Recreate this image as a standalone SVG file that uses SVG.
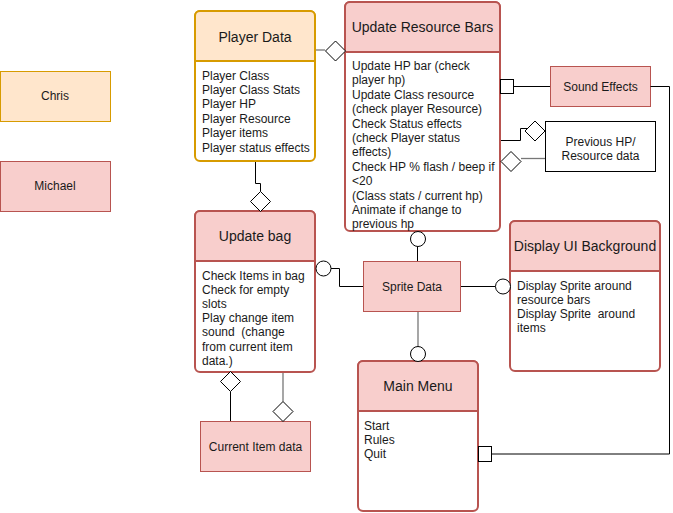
<svg xmlns="http://www.w3.org/2000/svg" xmlns:xlink="http://www.w3.org/1999/xlink" width="673" height="513" viewBox="0 0 673 513">
<style>
text{font-family:"Liberation Sans",Arial,sans-serif;fill:#1a1a1a}
.t{font-size:14px;text-anchor:middle}
.b{font-size:12px}
.c{font-size:12px;text-anchor:middle}
.or{fill:#ffe6cc;stroke:#d79b00}
.rd{fill:#f8cecc;stroke:#b85450}
.sw{stroke-width:2}
.body{fill:#fff;stroke-width:2}
.wb{fill:#fff;stroke:#000}
.ln{fill:none;stroke:#000;stroke-width:1}
.gl{fill:none;stroke:#777;stroke-width:1.3}
.end{fill:#fff;stroke:#000;stroke-width:1}
</style>
<defs>
<polygon id="dm" class="end" points="-10,0 0,-10 10,0 0,10"/>
<circle id="ov" class="end" r="7.5"/>
</defs>

<g id="chris"><rect class="or" x="0.5" y="71.5" width="110" height="50"/><text class="c" x="55" y="100">Chris</text></g>
<g id="michael"><rect class="rd" x="0.5" y="161.5" width="110" height="50"/><text class="c" x="55" y="190">Michael</text></g>

<g id="player-data">
<rect class="body" stroke="#d79b00" x="195" y="11" width="120" height="150" rx="5"/>
<path class="or sw" d="M195,61 V16 A5,5 0 0 1 200,11 H310 A5,5 0 0 1 315,16 V61 Z"/>
<text class="t" x="255" y="41.5">Player Data</text>
<text class="b" x="202" y="79.5">Player Class<tspan x="202" dy="14.4">Player Class Stats</tspan><tspan x="202" dy="14.4">Player HP</tspan><tspan x="202" dy="14.4">Player Resource</tspan><tspan x="202" dy="14.4">Player items</tspan><tspan x="202" dy="14.4">Player status effects</tspan></text>
</g>

<g id="update-resource-bars">
<rect class="body" stroke="#b85450" x="345" y="2" width="155" height="229" rx="5"/>
<path class="rd sw" d="M345,52 V7 A5,5 0 0 1 350,2 H495 A5,5 0 0 1 500,7 V52 Z"/>
<text class="t" x="422.5" y="32">Update Resource Bars</text>
<text class="b" x="352" y="70">Update HP bar (check<tspan x="352" dy="14.4">player hp)</tspan><tspan x="352" dy="14.4">Update Class resource</tspan><tspan x="352" dy="14.4">(check player Resource)</tspan><tspan x="352" dy="14.4">Check Status effects</tspan><tspan x="352" dy="14.4">(check Player status</tspan><tspan x="352" dy="14.4">effects)</tspan><tspan x="352" dy="14.4">Check HP % flash / beep if</tspan><tspan x="352" dy="14.4">&lt;20</tspan><tspan x="352" dy="14.4">(Class stats / current hp)</tspan><tspan x="352" dy="14.4">Animate if change to</tspan><tspan x="352" dy="14.4">previous hp</tspan></text>
</g>

<g id="sound-effects"><rect class="rd" x="550.5" y="66.5" width="100" height="40"/><text class="c" x="600.5" y="90.5">Sound Effects</text></g>

<g id="previous-hp"><rect class="wb" x="545.5" y="121.5" width="110" height="50"/><text class="c" x="600.5" y="145.5">Previous HP/<tspan x="600.5" dy="14.4">Resource data</tspan></text></g>

<g id="update-bag">
<rect class="body" stroke="#b85450" x="195" y="211" width="120" height="161" rx="5"/>
<path class="rd sw" d="M195,261 V216 A5,5 0 0 1 200,211 H310 A5,5 0 0 1 315,216 V261 Z"/>
<text class="t" x="255" y="241">Update bag</text>
<text class="b" x="202" y="279.5">Check Items in bag<tspan x="202" dy="14.2">Check for empty</tspan><tspan x="202" dy="14.2">slots</tspan><tspan x="202" dy="14.2">Play change item</tspan><tspan x="202" dy="14.2" xml:space="preserve">sound  (change</tspan><tspan x="202" dy="14.2">from current item</tspan><tspan x="202" dy="14.2">data.)</tspan></text>
</g>

<g id="sprite-data"><rect class="rd" x="363.5" y="261.5" width="97" height="50"/><text class="c" x="412" y="290.5">Sprite Data</text></g>

<g id="display-ui-background">
<rect class="body" stroke="#b85450" x="510" y="221" width="150" height="150" rx="5"/>
<path class="rd sw" d="M510,271 V226 A5,5 0 0 1 515,221 H655 A5,5 0 0 1 660,226 V271 Z"/>
<text class="t" x="585" y="251">Display UI Background</text>
<text class="b" x="517" y="289.5">Display Sprite around<tspan x="517" dy="14.2">resource bars</tspan><tspan x="517" dy="14.2" xml:space="preserve">Display Sprite  around</tspan><tspan x="517" dy="14.2">items</tspan></text>
</g>

<g id="current-item-data"><rect class="rd" x="200.5" y="421.5" width="110" height="50"/><text class="c" x="255.5" y="450.5">Current Item data</text></g>

<g id="main-menu">
<rect class="body" stroke="#b85450" x="358" y="361" width="120" height="150" rx="5"/>
<path class="rd sw" d="M358,411 V366 A5,5 0 0 1 363,361 H473 A5,5 0 0 1 478,366 V411 Z"/>
<text class="t" x="418" y="391">Main Menu</text>
<text class="b" x="364" y="429.5">Start<tspan x="364" dy="14.4">Rules</tspan><tspan x="364" dy="14.4">Quit</tspan></text>
</g>

<g id="connectors">
<path class="gl" d="M316,50 H325"/>
<use xlink:href="#dm" x="335.5" y="51"/>
<path class="ln" d="M255.5,162 V183.5 H260.5 V191.5"/>
<use xlink:href="#dm" x="260.5" y="201.5"/>
<path class="ln" d="M331,268.5 H339.5 V286.5 H363"/>
<use xlink:href="#ov" x="323.5" y="268.5"/>
<path class="ln" d="M417.5,261 V246.5"/>
<use xlink:href="#ov" x="418" y="239"/>
<path class="ln" d="M461,286.5 H495.5"/>
<use xlink:href="#ov" x="503" y="286.5"/>
<path class="gl" d="M418,312 V346.5"/>
<use xlink:href="#ov" x="418" y="354"/>
<path class="ln" d="M230.5,391.5 V421"/>
<use xlink:href="#dm" x="230.5" y="381.5"/>
<path class="gl" d="M283,373 V401.5"/>
<use xlink:href="#dm" x="283" y="411.5"/>
<path class="ln" d="M513,86.5 H550"/>
<rect class="end" x="500.5" y="79.5" width="13" height="14"/>
<path class="ln" d="M650.5,86.5 H669.5 V454 H491"/>
<rect class="end" x="478.5" y="446.5" width="13" height="15"/>
<path class="ln" d="M501,140.5 H520.5 V128.5 H527"/>
<use xlink:href="#dm" x="535" y="131"/>
<path class="gl" d="M545,158.5 H521"/>
<use xlink:href="#dm" x="511" y="161.5"/>
</g>
</svg>
